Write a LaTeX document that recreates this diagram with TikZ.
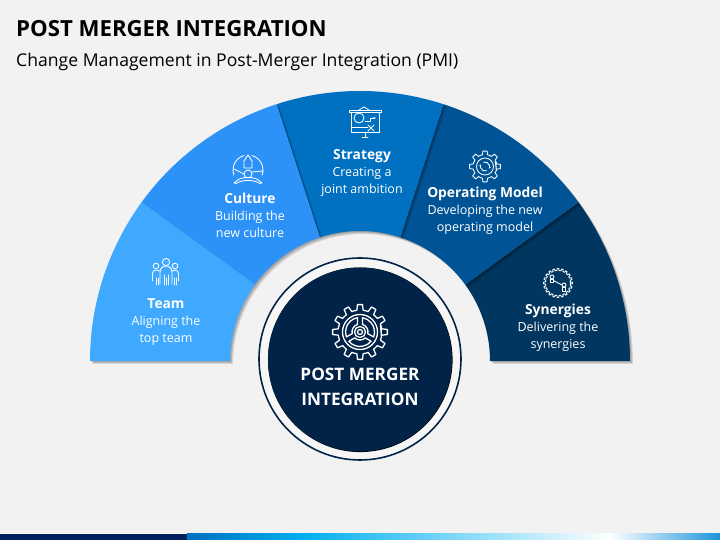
\documentclass[tikz,border=0pt]{standalone}
\usepackage{fontspec}
\setmainfont{Open Sans}
\usetikzlibrary{arrows.meta, calc}
\definecolor{pagebg}{HTML}{F2F2F2}
\definecolor{ringbg}{HTML}{F6F6F6}
\definecolor{teamblue}{HTML}{3FA9FF}
\definecolor{cultureblue}{HTML}{2C92F7}
\definecolor{strategyblue}{HTML}{0070C0}
\definecolor{operatingblue}{HTML}{005496}
\definecolor{synergyblue}{HTML}{00365F}
\definecolor{corenavy}{HTML}{002347}
\definecolor{barnavy}{HTML}{002060}
\definecolor{barcyan}{HTML}{00B0F0}
\definecolor{barend}{HTML}{1C94DC}
\tikzset{
	heading/.style={text=white, align=center, font=\fontsize{12.5}{17}\selectfont},
	core/.style={text=white, align=center, font=\fontsize{17.2}{24.5}\selectfont\bfseries},
	icon/.style={draw=white, line width=0.85pt, line join=round, line cap=round},
	bigicon/.style={draw=white, line width=1.3pt, line join=round, line cap=round}
}
\newcommand{\headline}[1]{{\fontsize{13.8}{17}\selectfont\bfseries #1}}
% one slice of the band, with a soft shadow behind it
\newcommand{\sectorpath}[2]{(#1:130pt) -- (#1:270pt) arc[start angle=#1, end angle=#2, radius=270pt] -- (#2:130pt) arc[start angle=#2, end angle=#1, radius=130pt] -- cycle}
\newcommand{\slice}[3]{
	\fill[black, opacity=0.12, shift={(1pt,-1pt)}] \sectorpath{#1}{#2};
	\fill[black, opacity=0.12, shift={(2pt,-2pt)}] \sectorpath{#1}{#2};
	\fill[black, opacity=0.12, shift={(3pt,-3pt)}] \sectorpath{#1}{#2};
	\fill[#3] \sectorpath{#1}{#2};
}
% gear outline: centre, number of teeth, outer and root radius, style
\newcommand{\gearpath}[5]{
	\draw[#5] ($(#1)+(-360/#2*0.425:#4pt)$) \foreach \a [evaluate=\a as \t using \a*360/#2] in {1,...,#2} {
		-- ($(#1)+(\t-360/#2*0.275:#4pt)$)
		-- ($(#1)+(\t-360/#2*0.175:#3pt)$)
		-- ($(#1)+(\t+360/#2*0.175:#3pt)$)
		-- ($(#1)+(\t+360/#2*0.275:#4pt)$)
		-- ($(#1)+(\t+360/#2*0.575:#4pt)$)
	} -- cycle;
}

\begin{document}
\begin{tikzpicture}[x=1pt, y=1pt]
	\useasboundingbox (-360,-179) rectangle (360,361);
	\fill[pagebg] (-360,-179) rectangle (360,361);
	
	% bottom bar
	\fill[white] (-360,-173) rectangle (360,-172);
	\fill[barnavy] (-360,-179) rectangle (-173,-173);
	\shade[left color=strategyblue, right color=barcyan] (-173,-179) rectangle (-57,-173);
	\shade[left color=barcyan, right color=white] (-57,-179) rectangle (250,-173);
	\shade[left color=white, right color=barend] (250,-179) rectangle (360,-173);
	
	% titles
	\node[anchor=base west, inner sep=0pt, font=\fontsize{22.2}{26}\selectfont\bfseries] (title) at (-344,324) {POST MERGER INTEGRATION};
	\node[anchor=base west, inner sep=0pt, font=\fontsize{17.6}{20}\selectfont] (subtitle) at (-344,294.5) {Change Management in Post-Merger Integration (PMI)};
	
	% band
	\slice{0}{36}{synergyblue}
	\slice{36}{72}{operatingblue}
	\slice{72}{108}{strategyblue}
	\slice{108}{144}{cultureblue}
	\slice{144}{180}{teamblue}
	
	% centre
	\fill[ringbg] (0,2) circle (101pt);
	\draw[corenavy, line width=1.6pt] (0,2) circle (101pt);
	\fill[black] (0.3,1.2) circle (92.3pt);
	\fill[corenavy] (0,1.5) circle (92pt);
	\node[core] (coretext) at (0,-26) {POST MERGER\\INTEGRATION};
	
	% centre gear
	\coordinate (coregear) at (0,29);
	\gearpath{coregear}{12}{27.5}{22}{bigicon}
	\draw[bigicon] (coregear) circle (17.5pt);
	\draw[bigicon] (coregear) circle (5.5pt);
	\draw[bigicon] (coregear) circle (2.5pt);
	\foreach \w in {30,150,270}{
		\draw[bigicon] ($(coregear)+(\w-50:14.5pt)$) arc[start angle=\w-50, end angle=\w+50, radius=14.5pt] -- ($(coregear)+(\w+42:8pt)$) arc[start angle=\w+42, end angle=\w-42, radius=8pt] -- cycle;
	}
	
	% slice texts
	\node[heading] (team) at (-194,39) {\headline{Team}\\Aligning the\\top team};
	\node[heading] (culture) at (-110,146) {\headline{Culture}\\Building the\\new culture};
	\node[heading] (strategy) at (2,188) {\headline{Strategy}\\Creating a\\joint ambition};
	\node[heading] (operating) at (125,150) {\headline{Operating Model}\\Developing the new\\operating model};
	\node[heading] (synergies) at (198,33) {\headline{Synergies}\\Delivering the\\synergies};
	
	% team icon
	\draw[icon] (-194,99) circle (3.6pt);
	\draw[icon] (-204,95) circle (2.8pt);
	\draw[icon] (-185,95) circle (2.8pt);
	\draw[icon] (-200,77) -- (-200,89) arc[start angle=180, end angle=0, radius=6pt] -- (-188,77);
	\draw[icon] (-200,90) -- (-204,91) arc[start angle=90, end angle=180, radius=3.5pt] -- (-207.5,80) (-188,90) -- (-185,91) arc[start angle=90, end angle=0, radius=3.5pt] -- (-181.5,80);
	\draw[icon] (-204,76) -- (-204,83) (-202,76) -- (-202,83) (-196,76) -- (-196,86) (-192,76) -- (-192,86) (-186,76) -- (-186,83) (-184,76) -- (-184,83);
	\draw[icon] (-194,76) -- (-194,83);
	
	% culture icon
	\draw[icon] (-115.9,205.5) arc[start angle=105, end angle=200, radius=15pt];
	\draw[icon] (-108.1,205.5) arc[start angle=75, end angle=-20, radius=15pt];
	\draw[icon] (-112,206) -- (-116,200) -- (-116,193) -- (-108,193) -- (-108,200) -- cycle;
	\draw[icon] (-112,187) circle (4pt);
	\draw[icon] (-126,178) .. controls (-121,183) and (-117,183.5) .. (-112,183.5) .. controls (-107,183.5) and (-103,183) .. (-98,178) -- (-100,177.5) .. controls (-104,180) and (-108,180.5) .. (-112,180.5) .. controls (-116,180.5) and (-120,180) .. (-124,177.5) -- cycle;
	\draw[icon] (-126,192) -- (-116,187) (-108,189) -- (-97,190);
	
	% strategy icon
	\draw[icon] (-11,251) rectangle (21,249);
	\draw[icon] (-1,251) -- (4,254) -- (9,251);
	\draw[icon] (-9,249) rectangle (19,229);
	\draw[icon] (5,229) -- (5,224) (2,224) -- (8,224);
	\draw[icon] (-1,243) circle (5pt);
	\draw[icon] (-8,234) -- (8,234);
	\draw[icon, -{Stealth[length=3pt]}] (5,240) -- (10,240) -- (10,243) -- (16,243);
	\draw[icon] (8,230) -- (14,236) (8,236) -- (14,230);
	
	% operating model icon
	\coordinate (opgear) at (125,194.5);
	\gearpath{opgear}{8}{15.5}{12}{icon}
	\draw[icon] (opgear) circle (8.5pt);
	\draw[icon, -{Stealth[length=2.5pt]}] ($(opgear)+(110:4.5pt)$) arc[start angle=110, end angle=-30, radius=4.5pt];
	\draw[icon, -{Stealth[length=2.5pt]}] ($(opgear)+(290:4.5pt)$) arc[start angle=290, end angle=150, radius=4.5pt];
	
	% synergies icon
	\coordinate (syngear) at (198,78);
	\gearpath{syngear}{20}{14.5}{12.5}{icon}
	\draw[icon] ($(syngear)+(-6,6)$) circle (2pt);
	\draw[icon] ($(syngear)+(-7.5,0.5)$) rectangle ($(syngear)+(-4.5,4)$);
	\draw[icon] ($(syngear)+(6,-2)$) circle (2pt);
	\draw[icon] ($(syngear)+(4.5,-8)$) rectangle ($(syngear)+(7.5,-4)$);
	\draw[icon] ($(syngear)+(-4.5,2.5)$) -- ($(syngear)+(4,-2)$);
\end{tikzpicture}
\end{document}
